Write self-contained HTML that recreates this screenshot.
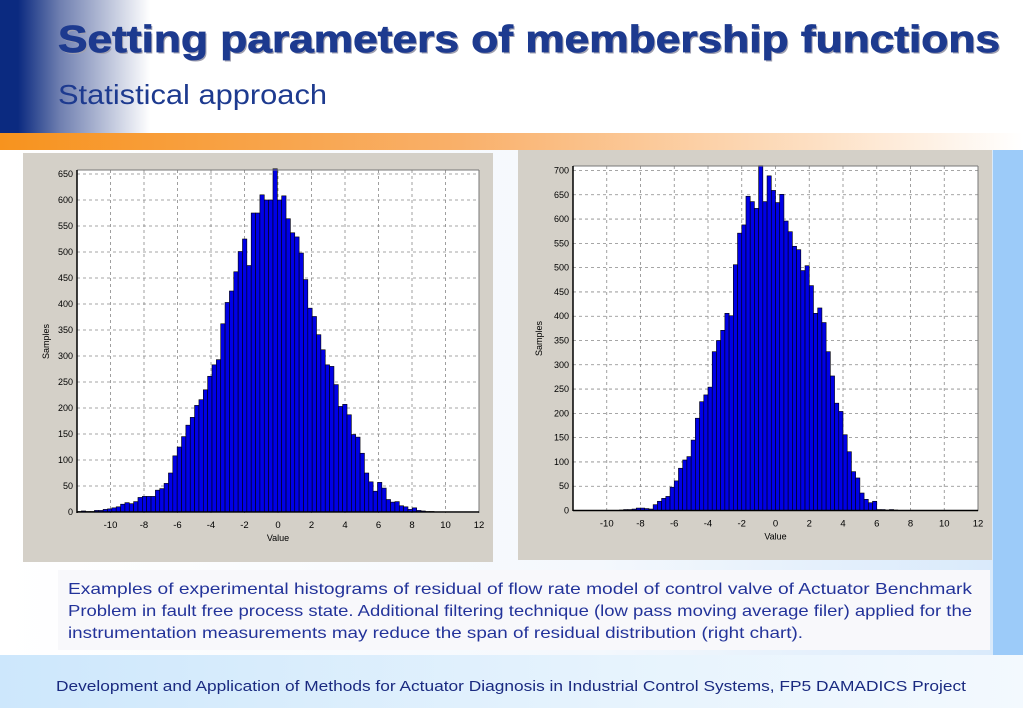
<!DOCTYPE html>
<html><head><meta charset="utf-8"><style>
html,body{margin:0;padding:0;}
body{width:1023px;height:708px;position:relative;overflow:hidden;background:#fff;font-family:"Liberation Sans",sans-serif;}
.abs{position:absolute;}
</style></head><body>
<div class="abs" style="left:0;top:0;width:1023px;height:133px;background:linear-gradient(90deg,#0b2a80 0px,#0b2a80 18px,#6f7fb0 60px,#fff 150px,#fff 100%);"></div>
<div class="abs" style="left:0;top:133px;width:1023px;height:17px;background:linear-gradient(90deg,#f7931e 0%,#f9b06a 45%,#fde0c4 80%,#fff 100%);"></div>
<div class="abs" style="left:993px;top:150px;width:30px;height:505px;background:#9ccbf9;"></div>
<div class="abs" style="left:0;top:150px;width:993px;height:505px;background:linear-gradient(90deg,#fff 0%,#f4f8fd 60%,#d9eafb 100%);"></div>
<div class="abs" style="left:0;top:655px;width:1023px;height:53px;background:linear-gradient(90deg,#cde7fc 0%,#e6f3fd 60%,#f3f9fe 100%);"></div>
<div class="abs" style="left:58px;top:570px;width:932px;height:80px;background:#f8f8fb;"></div>

<svg class="abs" style="left:0;top:0" width="1023" height="708">
  <text x="59.5" y="53.5" font-size="38" font-weight="bold" fill="#a0a0b0" textLength="942" lengthAdjust="spacingAndGlyphs">Setting parameters of membership functions</text>
  <text x="58" y="52" font-size="38" font-weight="bold" fill="#1d3a8f" stroke="#1d3a8f" stroke-width="0.8" textLength="942" lengthAdjust="spacingAndGlyphs">Setting parameters of membership functions</text>
  <text x="58" y="104" font-size="28" fill="#1d3a8f" textLength="269" lengthAdjust="spacingAndGlyphs">Statistical approach</text>
  <g font-size="16" fill="#23339a">
    <text x="68" y="594" textLength="904" lengthAdjust="spacingAndGlyphs">Examples of experimental histograms of residual of flow rate model of control valve of Actuator Benchmark</text>
    <text x="68" y="616" textLength="904" lengthAdjust="spacingAndGlyphs">Problem in fault free process state. Additional filtering technique (low pass moving average filer) applied for the</text>
    <text x="68" y="638" textLength="735" lengthAdjust="spacingAndGlyphs">instrumentation measurements may reduce the span of residual distribution (right chart).</text>
  </g>
  <text x="56" y="691" font-size="15" fill="#1a2a80" textLength="910" lengthAdjust="spacingAndGlyphs">Development and Application of Methods for Actuator Diagnosis in Industrial Control Systems, FP5 DAMADICS  Project</text>
</svg>

<svg id="leftChart" class="abs" style="left:23px;top:153px" width="470" height="409"></svg>
<svg id="rightChart" class="abs" style="left:518px;top:150px" width="474" height="410"></svg>

<script>
const leftBinStart = -12;
const leftBinWidth = 0.26;
const leftCounts = [1,2,1,1,3,3,5,6,8,10,15,18,16,20,28,30,30,30,42,45,55,75,108,125,145,167,182,205,216,235,261,283,293,362,403,425,462,501,525,474,575,575,610,600,600,660,600,608,564,537,529,498,447,392,376,341,312,283,280,245,203,207,187,149,144,113,75,58,40,57,46,24,19,20,12,10,5,8,3,2,1,1];
const leftYTicks = [0,50,100,150,200,250,300,350,400,450,500,550,600,650];
const xTickLabels = [-10,-8,-6,-4,-2,0,2,4,6,8,10,12];

const rightBinStart = -12;
const rightBinWidth = 0.25;
const rightCounts = [0,0,0,0,0,0,0,0,0,0,0,1,2,2,3,5,5,4,3,12,19,25,29,48,61,87,104,111,145,190,224,238,254,327,350,371,406,401,506,571,588,647,636,622,710,636,689,659,634,651,596,574,544,537,494,504,463,406,417,387,327,277,221,204,156,121,80,67,36,23,16,19,2,2,1,2,1,0,0,0,0,0,0,0,0,0,0,0,0,0,0,0,0,0,0,0];
const rightYTicks = [0,50,100,150,200,250,300,350,400,450,500,550,600,650,700];

const NS = 'http://www.w3.org/2000/svg';
function mk(parent, tag, attrs){
  const e = document.createElementNS(NS, tag);
  for (const k in attrs) e.setAttribute(k, attrs[k]);
  parent.appendChild(e);
  return e;
}
function drawChart(svg, cfg, counts, binStart, binWidth, yTicks){
  const W = +svg.getAttribute('width'), H = +svg.getAttribute('height');
  const bg = mk(svg,'rect',{x:0,y:0,width:W,height:H,fill:'#d4d0c8'});
  
  
  const L=cfg.left, R=cfg.right, T=cfg.top, B=cfg.bottom;
  const pa = mk(svg,'rect',{x:L,y:T,width:R-L,height:B-T,fill:'#fff'});
  
  
  const xs = v => L + (v - (-12)) / 24 * (R - L);
  const ys = v => cfg.zeroY - v * (cfg.zeroY - cfg.maxY) / cfg.yMax;
  const grid = mk(svg,'g',{stroke:'#888','stroke-width':0.8,'stroke-dasharray':'3,3'});
  
  
  xTickLabels.forEach(v => mk(grid,'line',{x1:xs(v),x2:xs(v),y1:T,y2:B}));
  yTicks.forEach(v => mk(grid,'line',{x1:L,x2:R,y1:ys(v),y2:ys(v)}));
  const bars = mk(svg,'g',{fill:'#0000e6',stroke:'#000','stroke-width':0.6});
  
  
  counts.forEach((c,i) => {
    const x0 = xs(binStart + i*binWidth), x1 = xs(binStart + (i+1)*binWidth);
    const y = ys(c);
    const r = mk(bars,'rect',{x:x0,y:y,width:x1-x0,height:Math.max(0,ys(0)-y)});
    
    
  });
  mk(svg,'line',{x1:L,x2:R,y1:T,y2:T,stroke:'#777','stroke-width':1});
  mk(svg,'line',{x1:R,x2:R,y1:T,y2:B,stroke:'#777','stroke-width':1});
  mk(svg,'line',{x1:L,x2:L,y1:T,y2:B,stroke:'#000','stroke-width':1.5});
  mk(svg,'line',{x1:L,x2:R,y1:ys(0),y2:ys(0),stroke:'#000','stroke-width':1.5});
  const ty = mk(svg,'g',{'font-size':9,fill:'#000','text-anchor':'end'});
  
  
  yTicks.forEach(v => { const t = mk(ty,'text',{x:L-4,y:ys(v)+3}); t.textContent = v; });
  const tx = mk(svg,'g',{'font-size':9.5,fill:'#000','text-anchor':'middle'});
  
  
  xTickLabels.forEach(v => { const t = mk(tx,'text',{x:xs(v),y:ys(0)+16}); t.textContent = v; });
  const xt = mk(svg,'text',{x:xs(0),y:ys(0)+29,'font-size':9,'text-anchor':'middle'});
  xt.textContent = 'Value';
  
  
  const yt = mk(svg,'text',{x:0,y:0,'font-size':9,'text-anchor':'middle',transform:'translate('+cfg.yTitleX+','+((T+B)/2)+') rotate(-90)'});
  yt.textContent = 'Samples';
  
  
}
drawChart(document.getElementById('leftChart'),
  {left:54,right:456,top:17,bottom:360,zeroY:359,maxY:21,yMax:650,yTitleX:26},
  leftCounts, leftBinStart, leftBinWidth, leftYTicks);
drawChart(document.getElementById('rightChart'),
  {left:55,right:460,top:16,bottom:361,zeroY:360.5,maxY:20.5,yMax:700,yTitleX:24},
  rightCounts, rightBinStart, rightBinWidth, rightYTicks);
</script>
</body></html>
